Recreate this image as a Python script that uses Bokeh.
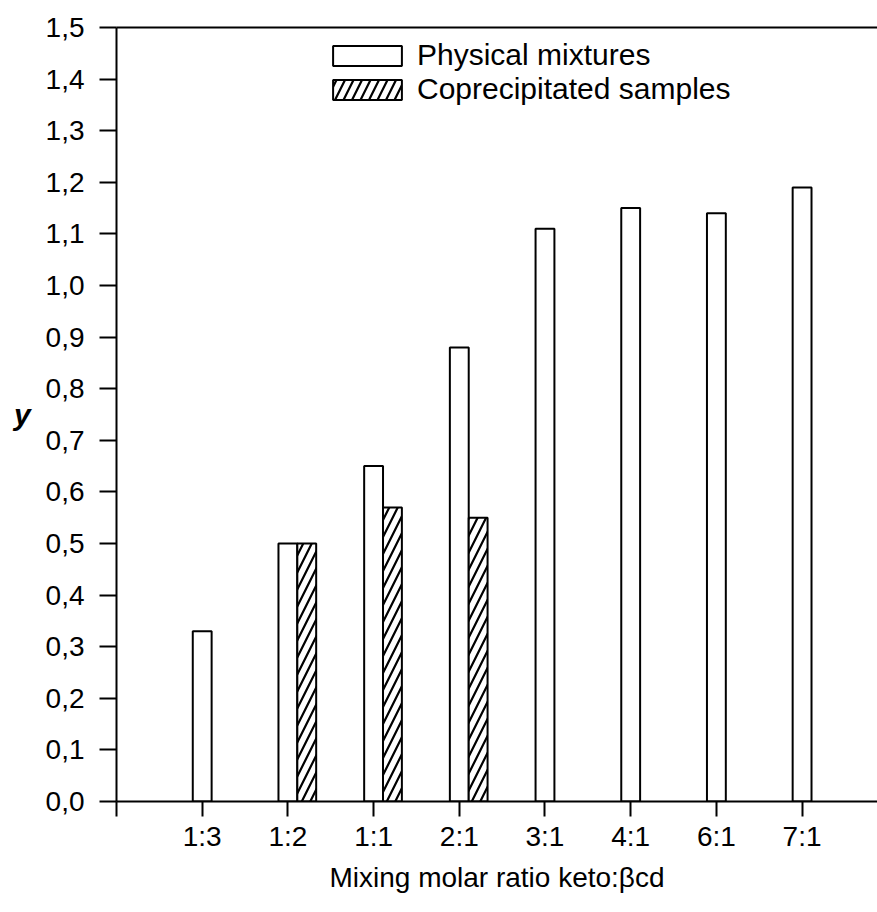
from bokeh.plotting import figure
from bokeh.models import Range1d, FixedTicker, Legend, LegendItem, LinearAxis, ColumnDataSource
from bokeh.embed import file_html
from bokeh.resources import INLINE

# ---- data ----
categories = ["1:3", "1:2", "1:1", "2:1", "3:1", "4:1", "6:1", "7:1"]
physical_mixtures = [0.33, 0.50, 0.65, 0.88, 1.11, 1.15, 1.14, 1.19]
coprecipitated_categories = ["1:2", "1:1", "2:1"]
coprecipitated_samples = [0.50, 0.57, 0.55]
y_ticks = [0.0, 0.1, 0.2, 0.3, 0.4, 0.5, 0.6, 0.7, 0.8, 0.9, 1.0, 1.1, 1.2, 1.3, 1.4, 1.5]
y_tick_labels = ["0,0", "0,1", "0,2", "0,3", "0,4", "0,5", "0,6", "0,7",
                 "0,8", "0,9", "1,0", "1,1", "1,2", "1,3", "1,4", "1,5"]
x_label = "Mixing molar ratio keto:\u03b2cd"
y_label = "y"
series_names = ["Physical mixtures", "Coprecipitated samples"]

FONT = "Liberation Sans"
BAR_W = 0.22

pos = {c: i + 1 for i, c in enumerate(categories)}
src_phys = ColumnDataSource(dict(x=[pos[c] for c in categories], top=physical_mixtures))
src_cop = ColumnDataSource(dict(x=[pos[c] + BAR_W for c in coprecipitated_categories],
                                top=coprecipitated_samples))

p = figure(width=877, height=912, output_backend="svg", toolbar_location=None,
           x_range=Range1d(0, 8.88), y_range=Range1d(0, 1.5),
           min_border_left=116, min_border_right=0, min_border_top=27, min_border_bottom=111)
p.outline_line_color = None
p.xgrid.grid_line_color = None
p.ygrid.grid_line_color = None
p.background_fill_color = "white"
p.border_fill_color = "white"

r1 = p.vbar(x="x", top="top", width=BAR_W, source=src_phys,
            fill_color="white", line_color="black", line_width=2)
r2 = p.vbar(x="x", top="top", width=BAR_W, source=src_cop,
            fill_color="white", line_color="black", line_width=2,
            hatch_pattern="/", hatch_color="black", hatch_scale=17, hatch_weight=2.2)

# y axis
ya = p.yaxis[0]
ya.ticker = FixedTicker(ticks=y_ticks)
ya.major_label_overrides = {t: l for t, l in zip(y_ticks, y_tick_labels)}
ya.major_tick_in = 0
ya.major_tick_out = 17
ya.minor_tick_line_color = None
ya.major_tick_line_width = 2
ya.axis_line_width = 2
ya.major_label_text_font = FONT
ya.major_label_text_font_size = "28px"
ya.major_label_text_color = "black"
ya.major_label_standoff = 15
ya.axis_label = y_label
ya.axis_label_orientation = "horizontal"
ya.axis_label_text_font = FONT
ya.axis_label_text_font_size = "30px"
ya.axis_label_text_font_style = "bold italic"
ya.axis_label_text_color = "black"
ya.axis_label_standoff = 12

# x axis
xa = p.xaxis[0]
xa.ticker = FixedTicker(ticks=[0] + [pos[c] for c in categories])
overrides = {0: ""}
overrides.update({pos[c]: c for c in categories})
xa.major_label_overrides = overrides
xa.major_tick_in = 0
xa.major_tick_out = 15
xa.minor_tick_line_color = None
xa.major_tick_line_width = 2
xa.axis_line_width = 2
xa.major_label_text_font = FONT
xa.major_label_text_font_size = "28px"
xa.major_label_text_color = "black"
xa.major_label_standoff = 4
xa.axis_label = x_label
xa.axis_label_text_font = FONT
xa.axis_label_text_font_size = "28px"
xa.axis_label_text_font_style = "normal"
xa.axis_label_text_color = "black"
xa.axis_label_standoff = 7

# top line
top_axis = LinearAxis(ticker=FixedTicker(ticks=[]), axis_line_width=2,
                      major_label_text_font_size="0px", major_tick_out=0, major_tick_in=0,
                      minor_tick_line_color=None)
p.add_layout(top_axis, "above")

legend = Legend(items=[LegendItem(label=series_names[0], renderers=[r1]),
                       LegendItem(label=series_names[1], renderers=[r2])],
                location=(208, 695), glyph_width=86, glyph_height=25, label_standoff=7,
                padding=0, spacing=0, margin=0, border_line_color=None, background_fill_alpha=0,
                label_text_font=FONT, label_text_font_size="30px", label_height=33,
                label_text_color="black")
p.add_layout(legend)

open("out.html", "w").write(file_html(p, INLINE))
